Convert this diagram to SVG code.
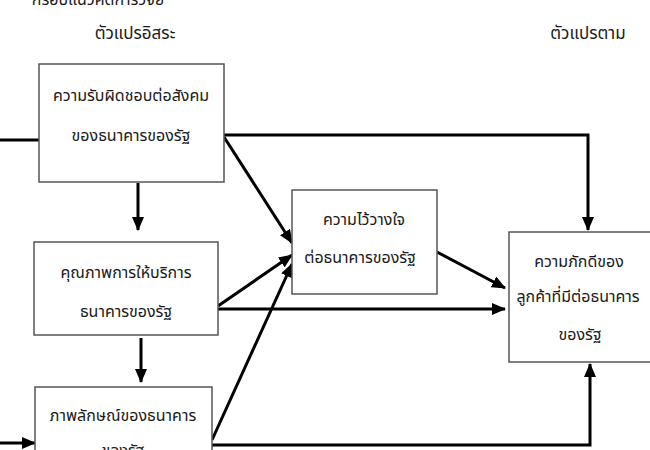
<svg xmlns="http://www.w3.org/2000/svg" width="650" height="450" viewBox="0 0 650 450">
<style>
.bx{fill:#fff;stroke:#555;stroke-width:1.5}
.t{font-family:"Noto Sans Thai","Noto Sans","DejaVu Sans",sans-serif;font-size:16px;fill:#1a1a1a;text-anchor:middle}
.h{font-size:17px}
.c{fill:none;stroke:#000;stroke-width:3}
</style>
<defs>
<marker id="ah" markerUnits="userSpaceOnUse" markerWidth="14" markerHeight="12" refX="13" refY="6" orient="auto">
<path d="M0,0 L14,6 L0,12 Z" fill="#000"/>
</marker>
</defs>
<rect width="650" height="450" fill="#fff"/>
<text class="t" x="98" y="5">กรอบแนวคิดการวิจัย</text>
<text class="t h" x="135" y="39">ตัวแปรอิสระ</text>
<text class="t h" x="588" y="39">ตัวแปรตาม</text>
<g id="connectors">
<line class="c" x1="0" y1="140" x2="39" y2="140"/>
<line class="c" x1="138" y1="183" x2="138" y2="230" marker-end="url(#ah)"/>
<line class="c" x1="141" y1="338" x2="141" y2="382" marker-end="url(#ah)"/>
<line class="c" x1="0" y1="443" x2="35" y2="443" marker-end="url(#ah)"/>
<path class="c" d="M224,135 H588 V230" marker-end="url(#ah)"/>
<line class="c" x1="224" y1="137" x2="292" y2="243" marker-end="url(#ah)"/>
<line class="c" x1="218" y1="306" x2="292" y2="255" marker-end="url(#ah)"/>
<line class="c" x1="218" y1="309" x2="505" y2="309" marker-end="url(#ah)"/>
<line class="c" x1="212" y1="440" x2="292" y2="264" marker-end="url(#ah)"/>
<line class="c" x1="437" y1="252" x2="505" y2="288" marker-end="url(#ah)"/>
<path class="c" d="M212,445 H590 V364" marker-end="url(#ah)"/>
</g>
<g id="n1">
<rect class="bx" x="39" y="64" width="185" height="118"/>
<text class="t" x="131" y="101">ความรับผิดชอบต่อสังคม</text>
<text class="t" x="131" y="141">ของธนาคารของรัฐ</text>
</g>
<g id="n2">
<rect class="bx" x="34" y="242" width="184" height="93"/>
<text class="t" x="126" y="278">คุณภาพการให้บริการ</text>
<text class="t" x="126" y="317">ธนาคารของรัฐ</text>
</g>
<g id="n3">
<rect class="bx" x="35" y="387" width="177" height="80"/>
<text class="t" x="123" y="421">ภาพลักษณ์ของธนาคาร</text>
<text class="t" x="123" y="456">ของรัฐ</text>
</g>
<g id="n_trust">
<rect class="bx" x="292" y="190" width="145" height="104"/>
<text class="t" x="364" y="225">ความไว้วางใจ</text>
<text class="t" x="360" y="263">ต่อธนาคารของรัฐ</text>
</g>
<g id="n4">
<rect class="bx" x="509" y="232" width="160" height="130"/>
<text class="t" x="579" y="267">ความภักดีของ</text>
<text class="t" x="578" y="302">ลูกค้าที่มีต่อธนาคาร</text>
<text class="t" x="580" y="340">ของรัฐ</text>
</g>
</svg>
